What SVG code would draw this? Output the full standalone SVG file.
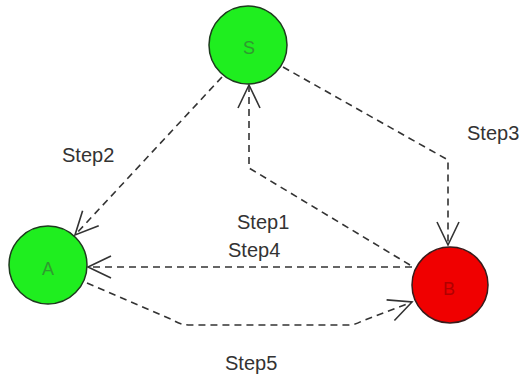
<svg xmlns="http://www.w3.org/2000/svg" width="523" height="379" viewBox="0 0 523 379">
<style>
.node{stroke:#1e3a1e;stroke-width:1.5}
.g{fill:#1fee1f}
.r{fill:#f00000;stroke:#3a1a1a}
.nl{font-family:"Liberation Sans",Arial,sans-serif;font-size:18px;text-anchor:middle}
.gl{fill:#2f9a2f}
.rl{fill:#b00000}
.edge{fill:none;stroke:#333;stroke-width:1.6;stroke-dasharray:7 5}
.lbl{font-family:"Liberation Sans",Arial,sans-serif;font-size:20px;fill:#333}
</style>
<defs>
<marker id="arr" markerUnits="userSpaceOnUse" viewBox="-27 -13 29 26" markerWidth="29" markerHeight="26" refX="0" refY="0" orient="auto" overflow="visible">
<path d="M-23,-11 L0,0 L-23,11" fill="none" stroke="#333" stroke-width="1.6" stroke-dasharray="none"/>
</marker>
</defs>
<rect width="523" height="379" fill="#fff"/>
<g id="connectors">
<path class="edge" d="M410,265 L249,168 L249,85" marker-end="url(#arr)"/>
<path class="edge" d="M222,77 L75,235" marker-end="url(#arr)"/>
<path class="edge" d="M283,67 L448,160 L448,245" marker-end="url(#arr)"/>
<path class="edge" d="M412,267 L88,267" marker-end="url(#arr)"/>
<path class="edge" d="M87,283 L173,320 Q180,325 190,325 L348,325 Q355,325 362,321 L412,302" marker-end="url(#arr)"/>
</g>
<g id="node-S">
<circle class="node g" cx="248" cy="45" r="39"/>
<text class="nl gl" x="249" y="54">S</text>
</g>
<g id="node-A">
<circle class="node g" cx="48" cy="265" r="39"/>
<text class="nl gl" x="48" y="275">A</text>
</g>
<g id="node-B">
<circle class="node r" cx="450" cy="285" r="38"/>
<text class="nl rl" x="449" y="295">B</text>
</g>
<g id="labels">
<text class="lbl" x="62" y="162">Step2</text>
<text class="lbl" x="467" y="140">Step3</text>
<text class="lbl" x="237" y="229">Step1</text>
<text class="lbl" x="228" y="257">Step4</text>
<text class="lbl" x="225" y="370">Step5</text>
</g>
</svg>
